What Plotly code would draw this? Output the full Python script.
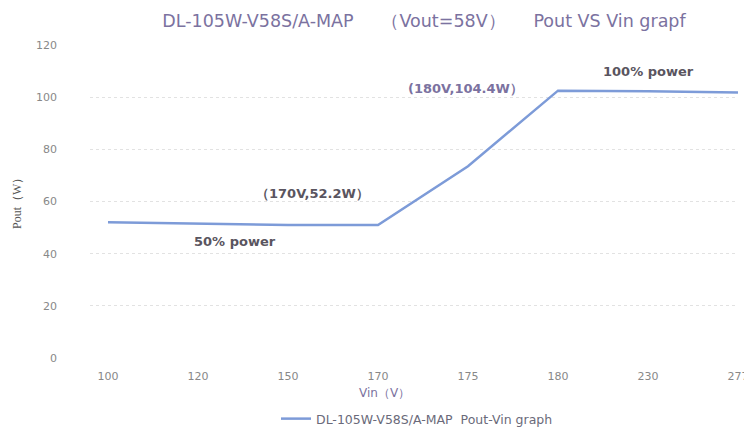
import plotly.graph_objects as go

categories = ["100", "120", "150", "170", "175", "180", "230", "277"]
pout = [52.0, 51.5, 51.0, 51.0, 73.5, 102.5, 102.3, 101.8]
y_ticks = [0, 20, 40, 60, 80, 100, 120]

series_name = "DL-105W-V58S/A-MAP  Pout-Vin graph"
title_text = "DL-105W-V58S/A-MAP     （Vout=58V）     Pout VS Vin grapf"

W, H = 744, 428
L, R, T, B = 57, 6, 45, 70          # margin box; y axis sits at its left edge
PLOT_LEFT = 90                       # where the x axis domain starts (px)
PW, PH = W - L - R, H - T - B

fig = go.Figure()
fig.add_trace(go.Scatter(
    x=categories, y=pout, mode="lines", name=series_name,
    line=dict(color="#7d9bd8", width=2.5),
))

ann_font = dict(family="DejaVu Sans, sans-serif", size=13, color="#5a5560", weight="bold")
fig.add_annotation(x=2.27, y=63, xref="x", yref="y", text="（170V,52.2W）", showarrow=False, font=ann_font)
fig.add_annotation(x=1.41, y=44.5, xref="x", yref="y", text="50% power", showarrow=False, font=ann_font)
fig.add_annotation(x=3.97, y=103.5, xref="x", yref="y", text="(180V,104.4W）", showarrow=False,
                   font=dict(family="DejaVu Sans, sans-serif", size=13, color="#7b72a0", weight="bold"))
fig.add_annotation(x=6.0, y=110.0, xref="x", yref="y", text="100% power", showarrow=False, font=ann_font)

# axis titles placed as annotations (pixel positions converted to paper fractions)
fig.add_annotation(x=(384 - L) / PW, y=(H - B - 393) / PH, xref="paper", yref="paper",
                   xanchor="center", yanchor="middle", text="Vin（V）", showarrow=False,
                   font=dict(family="DejaVu Sans, sans-serif", size=12, color="#7b72a0"))
fig.add_annotation(x=(17 - L) / PW, y=(H - B - 201) / PH, xref="paper", yref="paper",
                   xanchor="center", yanchor="middle",
                   text="Pout（W）", showarrow=False, textangle=-90,
                   font=dict(family="Liberation Serif, serif", size=12, color="#555555"))

fig.update_layout(
    width=W, height=H,
    margin=dict(l=L, r=R, t=T, b=B, autoexpand=False),
    paper_bgcolor="white", plot_bgcolor="white",
    title=dict(text=title_text, x=424 / W, xanchor="center", y=1 - 21 / H, yanchor="middle",
               font=dict(family="DejaVu Sans, sans-serif", size=17.5, color="#7b72a0")),
    showlegend=True,
    legend=dict(orientation="h", xref="container", x=276 / W, xanchor="left",
                yref="container", y=1 - 419 / H, yanchor="middle", itemwidth=30,
                font=dict(family="DejaVu Sans, sans-serif", size=12.5, color="#6a6a7a")),
    xaxis=dict(
        type="category", range=[-0.2, 7.0], automargin=False,
        domain=[(PLOT_LEFT - L) / PW, 1],
        showgrid=False, zeroline=False, showline=False, ticks="",
        ticklabelstandoff=10,
        tickfont=dict(family="DejaVu Sans, sans-serif", size=11, color="#888888"),
    ),
    yaxis=dict(
        range=[0, 120], tickvals=y_ticks, automargin=False,
        anchor="free", position=0,
        showgrid=True, gridcolor="#e2e2e2", griddash="dot", gridwidth=1,
        zeroline=False, showline=False, ticks="",
        tickfont=dict(family="DejaVu Sans, sans-serif", size=11, color="#888888"),
    ),
)

fig.write_html("out.html", config={"displayModeBar": False},
               post_script="document.body.style.margin='0';")
